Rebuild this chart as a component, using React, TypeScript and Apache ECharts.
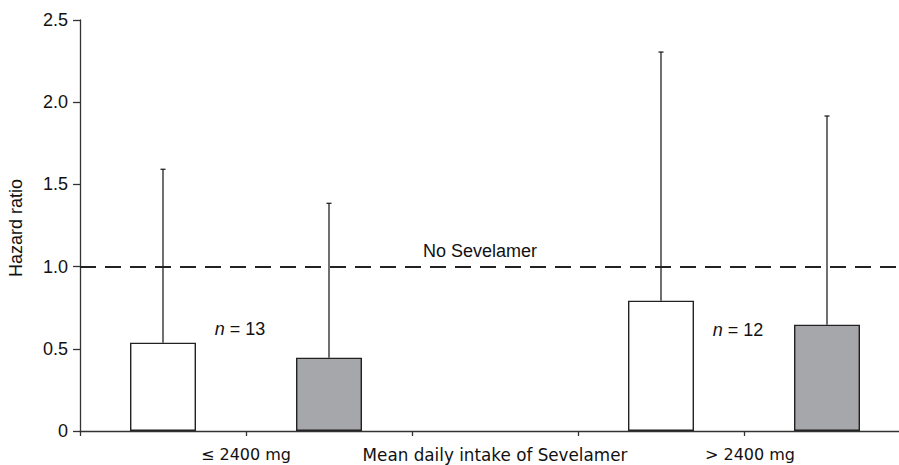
import React, { useEffect, useRef } from "react";
import * as echarts from "echarts";

// Data
const barX = [0.5, 1.5, 3.5, 4.5];
const hazardRatio = [0.537, 0.446, 0.793, 0.647];
const upperCI = [1.592, 1.385, 2.305, 1.916];
const barFill = ["#ffffff", "#a6a7aa", "#ffffff", "#a6a7aa"];
const groupLabels: Record<string, string> = {
  "1": "{g|≤ 2400 mg}",
  "2.5": "{m|Mean daily intake of Sevelamer}",
  "4": "{h|> 2400 mg}",
};
const nLabels = [
  { x: 0.964, y: 0.62, n: 13 },
  { x: 3.964, y: 0.617, n: 12 },
];
const referenceLevel = 1.0;
const referenceLabel = "No Sevelamer";
const yAxisTitle = "Hazard ratio";
const yTicks = { min: 0, max: 2.5, interval: 0.5 };

export default function App() {
  const ref = useRef<HTMLDivElement>(null);
  useEffect(() => {
    if (!ref.current) return;
    const chart = echarts.init(ref.current, null, { renderer: "svg" });
    const ink = "#222";
    const arial = "Liberation Sans, Arial, sans-serif";
    const verdana = "DejaVu Sans, Verdana, sans-serif";
    const option: any = {
      animation: false,
      backgroundColor: "#ffffff",
      grid: {
        left: 80,
        right: -11,
        top: 20,
        bottom: 34,
        containLabel: false,
        outerBoundsMode: "none",
      },
      graphic: [
        {
          type: "text",
          x: 16,
          y: 228,
          rotation: Math.PI / 2,
          style: {
            text: yAxisTitle,
            fontFamily: arial,
            fontSize: 18,
            fill: "#111",
            align: "center",
            verticalAlign: "middle",
          },
        },
      ],
      xAxis: [
        {
          type: "value",
          min: 0,
          max: 5,
          interval: 1,
          axisLine: { show: true, lineStyle: { color: "#333", width: 1.3 } },
          axisTick: { show: true, length: 5, lineStyle: { color: "#333", width: 1.3 } },
          axisLabel: { show: false },
          splitLine: { show: false },
        },
        {
          type: "value",
          position: "bottom",
          min: 0,
          max: 5,
          interval: 0.5,
          axisLine: { show: false },
          axisTick: { show: false },
          splitLine: { show: false },
          axisLabel: {
            show: true,
            margin: 15,
            color: "#111",
            fontFamily: verdana,
            fontSize: 16,
            formatter: (v: number) => groupLabels[String(v)] || "",
            rich: {
              g: { fontFamily: verdana, fontSize: 16, color: "#111" },
              h: { fontFamily: verdana, fontSize: 16, color: "#111", padding: [0, 0, 0, 12] },
              m: { fontFamily: verdana, fontSize: 16.8, color: "#111" },
            },
          },
        },
      ],
      yAxis: {
        type: "value",
        min: yTicks.min,
        max: yTicks.max,
        interval: yTicks.interval,
        axisLine: { show: true, lineStyle: { color: "#333", width: 1.3 } },
        axisTick: { show: true, length: 7, lineStyle: { color: "#333", width: 1.3 } },
        splitLine: { show: false },
        axisLabel: {
          margin: 12,
          color: "#111",
          fontFamily: arial,
          fontSize: 18,
          formatter: (v: number) => (v === 0 ? "0" : v.toFixed(1)),
        },
      },
      series: [
        {
          type: "bar",
          xAxisIndex: 0,
          barWidth: 66,
          data: barX.map((x, i) => ({
            value: [x, hazardRatio[i]],
            itemStyle: { color: barFill[i], borderColor: ink, borderWidth: 1.4 },
          })),
          markLine: {
            silent: true,
            symbol: "none",
            lineStyle: { color: ink, width: 2, type: [16, 9] },
            label: {
              show: true,
              position: "insideMiddleTop",
              formatter: referenceLabel,
              color: "#111",
              fontFamily: arial,
              fontSize: 18,
              distance: 7,
              offset: [-15, 0],
            },
            data: [{ yAxis: referenceLevel }],
          },
          z: 2,
        },
        {
          type: "custom",
          xAxisIndex: 0,
          encode: { x: 0, y: [1, 2] },
          data: barX.map((x, i) => [x, hazardRatio[i], upperCI[i]]),
          renderItem: (params: any, api: any) => {
            const x = api.value(0);
            const p1 = api.coord([x, api.value(1)]);
            const p2 = api.coord([x, api.value(2)]);
            const st = { stroke: ink, lineWidth: 1.3 };
            return {
              type: "group",
              children: [
                { type: "line", shape: { x1: p1[0], y1: p1[1], x2: p2[0], y2: p2[1] }, style: st },
                { type: "line", shape: { x1: p2[0] - 2.5, y1: p2[1], x2: p2[0] + 2.5, y2: p2[1] }, style: st },
              ],
            };
          },
          z: 3,
        },
        {
          type: "scatter",
          xAxisIndex: 0,
          symbolSize: 0,
          itemStyle: { opacity: 1 },
          data: nLabels.map((d) => ({ value: [d.x, d.y], n: d.n })),
          label: {
            show: true,
            position: "inside",
            opacity: 1,
            formatter: (p: any) => `{i|n}{r| = ${p.data.n}}`,
            color: "#111",
            fontFamily: arial,
            fontSize: 18,
            rich: {
              i: { fontStyle: "italic", fontFamily: arial, fontSize: 18, color: "#111" },
              r: { fontFamily: arial, fontSize: 18, color: "#111" },
            },
          },
          z: 4,
        },
      ],
    };
    chart.setOption(option);
    return () => chart.dispose();
  }, []);
  return (
    <div
      ref={ref}
      style={{ position: "absolute", left: 0, top: 0, width: 899, height: 465 }}
    />
  );
}
